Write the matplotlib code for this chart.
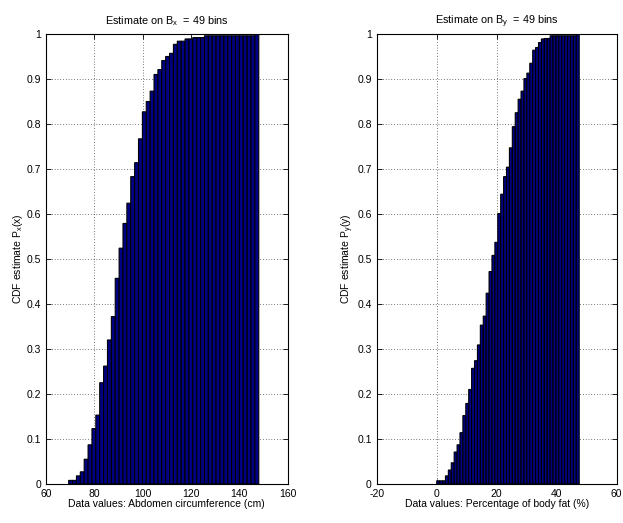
import numpy as np
import matplotlib.pyplot as plt

# =========================
# data
# =========================
N_BINS = 49

# abdomen circumference range (cm) and CDF per bin
ABD_MIN, ABD_MAX = 69.4, 148.1
cdf_abd = [
    0.008, 0.008, 0.018, 0.027, 0.055, 0.087, 0.123, 0.153, 0.225, 0.262,
    0.320, 0.372, 0.457, 0.524, 0.579, 0.624, 0.683, 0.714, 0.767, 0.827,
    0.850, 0.873, 0.910, 0.921, 0.941, 0.950, 0.957, 0.977, 0.984, 0.984,
    0.989, 0.989, 0.992, 0.992, 0.992, 0.996, 0.996, 0.996, 0.996, 0.996,
    0.996, 0.996, 0.996, 0.996, 0.996, 0.996, 0.996, 0.996, 1.000,
]

# body fat percentage range (%) and CDF per bin
FAT_MIN, FAT_MAX = 0.0, 47.5
cdf_fat = [
    0.007, 0.007, 0.007, 0.018, 0.031, 0.047, 0.071, 0.087, 0.114, 0.152,
    0.179, 0.210, 0.257, 0.274, 0.309, 0.353, 0.373, 0.424, 0.472, 0.508,
    0.537, 0.601, 0.644, 0.683, 0.704, 0.747, 0.794, 0.825, 0.855, 0.873,
    0.901, 0.913, 0.935, 0.964, 0.970, 0.981, 0.989, 0.990, 0.990, 0.996,
    0.996, 0.996, 0.996, 0.996, 0.996, 0.996, 0.996, 0.996, 1.000,
]

xticks_abd = [60, 80, 100, 120, 140, 160]
xticks_fat = [-20, 0, 20, 40, 60]
yticks = [0, 0.1, 0.2, 0.3, 0.4, 0.5, 0.6, 0.7, 0.8, 0.9, 1]
ytick_labels = ["0", "0.1", "0.2", "0.3", "0.4", "0.5", "0.6", "0.7", "0.8", "0.9", "1"]

# =========================
# style
# =========================
plt.rcParams["font.family"] = ["Liberation Sans", "DejaVu Sans"]
plt.rcParams["mathtext.default"] = "regular"
plt.rcParams["font.size"] = 7.5

BAR_COLOR = "#000085"


def draw_panel(ax, lo, hi, cdf, xticks, title, xlabel, ylabel):
    width = (hi - lo) / N_BINS
    centers = lo + width * (np.arange(N_BINS) + 0.5)
    bars = ax.bar(centers, cdf, width=width, color=BAR_COLOR, edgecolor="black",
                  linewidth=0.8, zorder=2)
    for b in bars:
        b.set_snap(False)
    ax.set_xlim(xticks[0], xticks[-1])
    ax.set_ylim(0, 1)
    ax.set_xticks(xticks)
    ax.set_xticklabels([str(t) for t in xticks])
    ax.set_yticks(yticks)
    ax.set_yticklabels(ytick_labels)
    ax.tick_params(direction="in", length=3.5, width=0.6, top=True, right=True,
                   labelsize=7.5)
    ax.tick_params(axis="x", pad=3.5)
    ax.tick_params(axis="y", pad=3.5)
    ax.grid(True, color="black", linestyle=(0, (1, 3)), linewidth=0.5, zorder=1)
    ax.set_axisbelow(True)
    for s in ax.spines.values():
        s.set_linewidth(0.8)
    ax.set_title(title, fontsize=7.8, pad=7)
    ax.set_xlabel(xlabel, fontsize=7.5, labelpad=0)
    ax.set_ylabel(ylabel, fontsize=7.5, labelpad=1)


fig = plt.figure(figsize=(6.23, 5.23), dpi=100)
ax1 = fig.add_axes([0.0738, 0.0746, 0.3877, 0.8604])
ax2 = fig.add_axes([0.6047, 0.0746, 0.3852, 0.8604])

draw_panel(ax1, ABD_MIN, ABD_MAX, cdf_abd, xticks_abd,
           "Estimate on B$_{x}$  = 49 bins",
           "Data values: Abdomen circumference (cm)",
           "CDF estimate P$_x$(x)")
draw_panel(ax2, FAT_MIN, FAT_MAX, cdf_fat, xticks_fat,
           "Estimate on B$_{y}$  = 49 bins",
           "Data values: Percentage of body fat (%)",
           "CDF estimate P$_y$(y)")

fig.savefig("out.png", dpi=100)
